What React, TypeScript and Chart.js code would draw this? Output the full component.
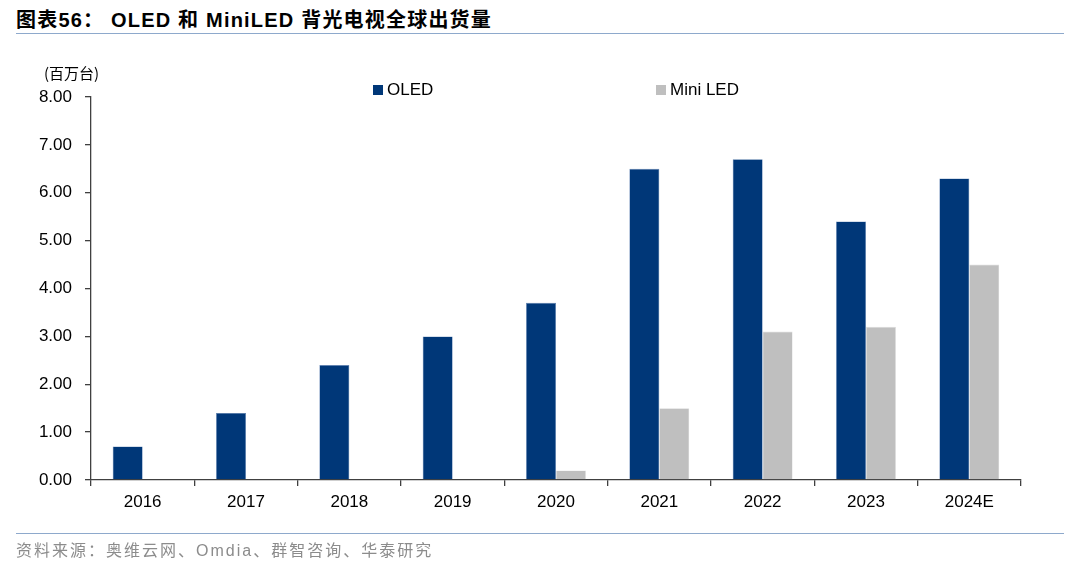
import React, { useEffect, useRef } from "react";
import { Chart, registerables } from "chart.js";

Chart.register(...registerables);

const categories = ["2016", "2017", "2018", "2019", "2020", "2021", "2022", "2023", "2024E"];
const oledValues = [0.7, 1.4, 2.4, 3.0, 3.7, 6.5, 6.7, 5.4, 6.3];
const miniLedValues = [null, null, null, null, 0.2, 1.5, 3.1, 3.2, 4.5];
const seriesNames = ["OLED", "Mini LED"];
const seriesColors = ["#003778", "#BFBFBF"];
const yTicks = [0, 1, 2, 3, 4, 5, 6, 7, 8];

const FONT = "'Liberation Sans', Arial, 'Noto Sans CJK SC', sans-serif";

const legendPlugin = {
  id: "customLegend",
  afterDraw(chart: any) {
    const ctx = chart.ctx;
    const xs = [373, 656];
    ctx.save();
    ctx.font = `17px ${FONT}`;
    ctx.textBaseline = "middle";
    seriesNames.forEach((n, i) => {
      ctx.fillStyle = seriesColors[i];
      ctx.fillRect(xs[i], 85, 10, 10);
      ctx.fillStyle = "#000";
      ctx.fillText(n, xs[i] + 14, 90.5);
    });
    ctx.font = `15px 'Noto Sans CJK SC', ${FONT}`;
    ctx.fillStyle = "#000";
    ctx.fillText("(百万台)", 44, 73);
    ctx.restore();
  },
};

export default function App() {
  const ref = useRef<HTMLCanvasElement | null>(null);
  useEffect(() => {
    document.body.style.margin = "0";
    const chart = new Chart(ref.current!, {
      type: "bar",
      data: {
        labels: categories,
        datasets: [
          {
            label: seriesNames[0],
            data: oledValues,
            backgroundColor: seriesColors[0],
            borderColor: "#5b7fb0",
            borderWidth: 0.6,
            categoryPercentage: 0.58,
            barPercentage: 1.0,
          },
          {
            label: seriesNames[1],
            data: miniLedValues as any,
            backgroundColor: seriesColors[1],
            borderColor: "#e0e0e0",
            borderWidth: 0.6,
            categoryPercentage: 0.58,
            barPercentage: 1.0,
          },
        ],
      },
      options: {
        animation: false,
        responsive: false,
        maintainAspectRatio: false,
        layout: { padding: { left: 0, right: 59, top: 97, bottom: 0 } },
        plugins: { legend: { display: false }, tooltip: { enabled: false } },
        scales: {
          x: {
            grid: { display: true, drawOnChartArea: false, drawTicks: true, tickLength: 6, color: "#404040", lineWidth: 1.3 },
            border: { display: true, color: "#404040", width: 1.3 },
            ticks: { font: { family: FONT, size: 17 }, color: "#000", padding: 6, maxRotation: 0 },
            afterFit: (s: any) => { s.height = 87; },
          },
          y: {
            min: 0,
            max: 8,
            afterBuildTicks: (s: any) => { s.ticks = yTicks.map((v) => ({ value: v })); },
            grid: { display: true, drawOnChartArea: false, drawTicks: true, tickLength: 6, color: "#404040", lineWidth: 1.3 },
            border: { display: true, color: "#404040", width: 1.3 },
            ticks: {
              font: { family: FONT, size: 17 },
              color: "#000",
              padding: 13,
              callback: (v: any) => Number(v).toFixed(2),
            },
            afterFit: (s: any) => { s.width = 91; },
          },
        },
      },
      plugins: [legendPlugin],
    });
    return () => chart.destroy();
  }, []);

  return (
    <div style={{ position: "relative", width: 1080, height: 567, background: "#fff", overflow: "hidden" }}>
      <div
        style={{
          position: "absolute",
          left: 16,
          top: 7,
          fontFamily: `'Liberation Sans', Arial, 'Noto Sans CJK SC', sans-serif`,
          fontWeight: "bold",
          fontSize: 20,
          letterSpacing: "1.2px",
          color: "#000",
          whiteSpace: "nowrap",
          lineHeight: "26px",
        }}
      >
        图表56： OLED 和 MiniLED 背光电视全球出货量
      </div>
      <div style={{ position: "absolute", left: 16, top: 33, width: 1048, height: 1, background: "#8EA9CC" }} />
      <canvas ref={ref} width={1080} height={567} style={{ position: "absolute", left: 0, top: 0, width: 1080, height: 567 }} />
      <div style={{ position: "absolute", left: 16, top: 533, width: 1048, height: 1, background: "#8EA9CC" }} />
      <div
        style={{
          position: "absolute",
          left: 16,
          top: 539,
          fontFamily: `'Liberation Sans', Arial, 'Noto Sans CJK SC', sans-serif`,
          fontSize: 16,
          letterSpacing: "2px",
          color: "#8c8c8c",
          whiteSpace: "nowrap",
          lineHeight: "24px",
        }}
      >
        资料来源：奥维云网、Omdia、群智咨询、华泰研究
      </div>
    </div>
  );
}
